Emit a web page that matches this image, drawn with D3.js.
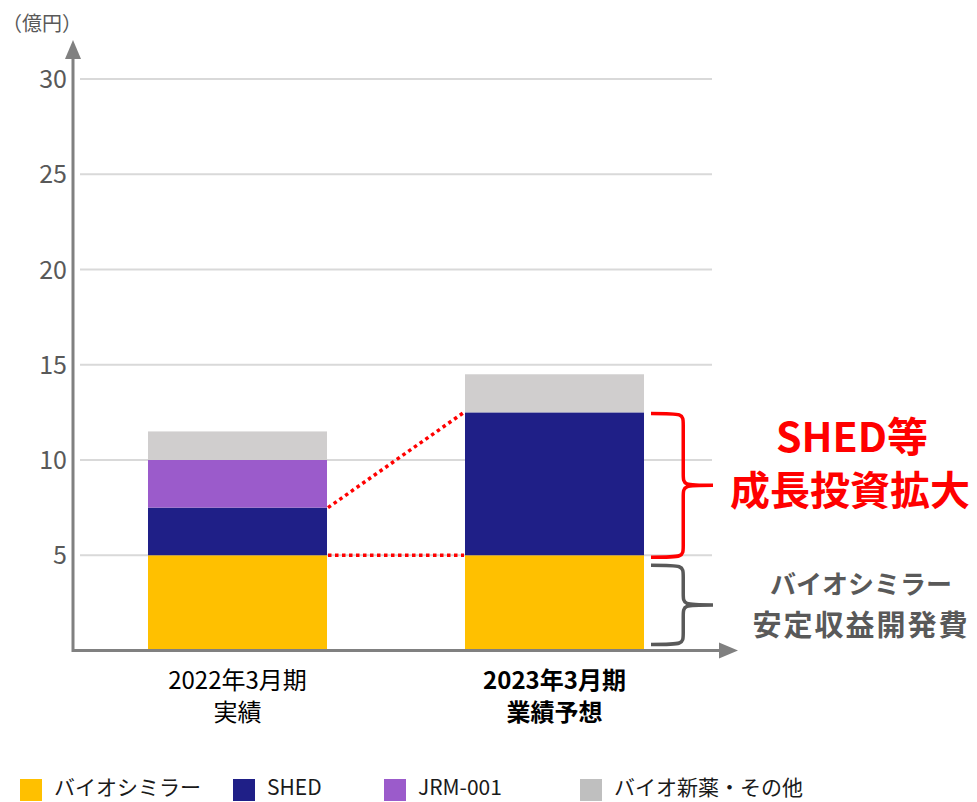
<!DOCTYPE html>
<html><head><meta charset="utf-8">
<script src="https://cdn.jsdelivr.net/npm/d3@7"></script>
<style>body{margin:0;background:#fff;}svg{display:block;font-family:"Noto Sans CJK JP","Noto Sans",sans-serif;}</style>
</head><body>
<script>
const categories = ["2022年3月期|実績", "2023年3月期|業績予想"];
const seriesNames = ["バイオシミラー", "SHED", "JRM-001", "バイオ新薬・その他"];
const seriesColors = ["#FFC000", "#1F1F87", "#9B5BCB", "#D0CECE"];
const legendColors = ["#FFC000", "#1F1F87", "#9B5BCB", "#BFBFBF"];
const biosimilar = [5, 5];
const shed = [2.5, 7.5];
const jrm = [2.5, 0];
const others = [1.5, 2];
const yTicks = [5, 10, 15, 20, 25, 30];

const W = 977, H = 802;
const svg = d3.select("body").append("svg").attr("width", W).attr("height", H);

const y = d3.scaleLinear().domain([0, 30]).range([650.5, 79]);
const x = d3.scaleBand().domain(categories).range([80, 712]).paddingInner(0.4353).paddingOuter(0.2145);

// gridlines
svg.append("g").selectAll("line").data(yTicks).join("line")
  .attr("x1", 80).attr("x2", 712).attr("y1", d => y(d)).attr("y2", d => y(d))
  .attr("stroke", "#D9D9D9").attr("stroke-width", 1.8);

// stacks
const rows = categories.map((c, i) => ({cat: c, s0: biosimilar[i], s1: shed[i], s2: jrm[i], s3: others[i]}));
const stack = d3.stack().keys(["s0", "s1", "s2", "s3"])(rows);
svg.append("g").selectAll("g").data(stack).join("g")
  .attr("fill", (d, i) => seriesColors[i])
  .selectAll("rect").data(d => d).join("rect")
  .attr("x", d => x(d.data.cat)).attr("width", x.bandwidth())
  .attr("y", d => y(d[1])).attr("height", d => y(d[0]) - y(d[1]));

// dotted connectors
const c0 = categories[0], c1 = categories[1];
const conn = [
  [biosimilar[0] + shed[0], biosimilar[1] + shed[1]],
  [biosimilar[0], biosimilar[1]]
];
svg.append("g").selectAll("line").data(conn).join("line")
  .attr("x1", x(c0) + x.bandwidth() + 1).attr("x2", x(c1) - 1)
  .attr("y1", d => y(d[0])).attr("y2", d => y(d[1]))
  .attr("stroke", "#FF0000").attr("stroke-width", 3.5).attr("stroke-dasharray", "3.5,3.5");

// axes
const axisCol = "#808080";
svg.append("line").attr("x1", 73).attr("x2", 73).attr("y1", 652).attr("y2", 58)
  .attr("stroke", axisCol).attr("stroke-width", 3);
svg.append("path").attr("d", "M73,40 L65,59 L81,59 Z").attr("fill", axisCol);
svg.append("line").attr("x1", 72).attr("x2", 722).attr("y1", 650.5).attr("y2", 650.5)
  .attr("stroke", axisCol).attr("stroke-width", 3);
svg.append("path").attr("d", "M738,650.5 L719,642.5 L719,658.5 Z").attr("fill", axisCol);

// tick labels
svg.append("g").selectAll("text").data(yTicks).join("text")
  .attr("x", 67).attr("y", d => y(d) + 9).attr("text-anchor", "end")
  .attr("font-size", 25).attr("fill", "#595959").text(d => d);
svg.append("text").attr("x", 2).attr("y", 31).attr("font-size", 20).attr("fill", "#595959").text("（億円）");

// category labels
categories.forEach((c, i) => {
  const parts = c.split("|");
  const t = svg.append("text").attr("text-anchor", "middle")
    .attr("font-size", 24).attr("fill", "#000")
    .attr("font-weight", i === 1 ? "bold" : "normal");
  parts.forEach((p, j) => t.append("tspan").attr("x", x(c) + x.bandwidth() / 2).attr("y", 689 + j * 32).text(p));
});

// braces
function brace(x0, yTop, yBot, w) {
  const ym = (yTop + yBot) / 2, xm = x0 + w * 0.52, xt = x0 + w;
  return `M${x0},${yTop} C${xm},${yTop} ${xm},${yTop} ${xm},${yTop + 12}
    L${xm},${ym - 12} C${xm},${ym} ${xm},${ym} ${xt},${ym}
    C${xm},${ym} ${xm},${ym} ${xm},${ym + 12}
    L${xm},${yBot - 12} C${xm},${yBot} ${xm},${yBot} ${x0},${yBot}`;
}
const bx = x(c1) + x.bandwidth() + 7;
svg.append("path").attr("d", brace(bx, y(biosimilar[1] + shed[1]) + 1, y(biosimilar[1]) + 2, 62))
  .attr("fill", "none").attr("stroke", "#FF0000").attr("stroke-width", 3.5);
svg.append("path").attr("d", brace(bx, y(biosimilar[1]) + 10, y(0) - 6, 62))
  .attr("fill", "none").attr("stroke", "#595959").attr("stroke-width", 3.5);

// annotations
svg.append("text").attr("x", 852).attr("y", 452).attr("text-anchor", "middle")
  .attr("font-size", 41).attr("font-weight", "bold").attr("fill", "#FF0000").text("SHED等");
svg.append("text").attr("x", 850).attr("y", 505).attr("text-anchor", "middle")
  .attr("font-size", 40).attr("font-weight", "bold").attr("fill", "#FF0000").text("成長投資拡大");
svg.append("text").attr("x", 861).attr("y", 594).attr("text-anchor", "middle")
  .attr("font-size", 26).attr("font-weight", "bold").attr("fill", "#595959").text("バイオシミラー");
svg.append("text").attr("x", 861).attr("y", 636).attr("text-anchor", "middle")
  .attr("font-size", 29).attr("letter-spacing", 2).attr("font-weight", "bold").attr("fill", "#595959").text("安定収益開発費");

// legend
const legX = [20, 233, 384, 580];
const leg = svg.append("g").selectAll("g").data(seriesNames).join("g")
  .attr("transform", (d, i) => `translate(${legX[i]},779)`);
leg.append("rect").attr("width", 22).attr("height", 22).attr("fill", (d, i) => legendColors[i]);
leg.append("text").attr("x", 34).attr("y", 16).attr("font-size", 21).attr("fill", "#1a1a1a").text(d => d);
</script>
</body></html>
